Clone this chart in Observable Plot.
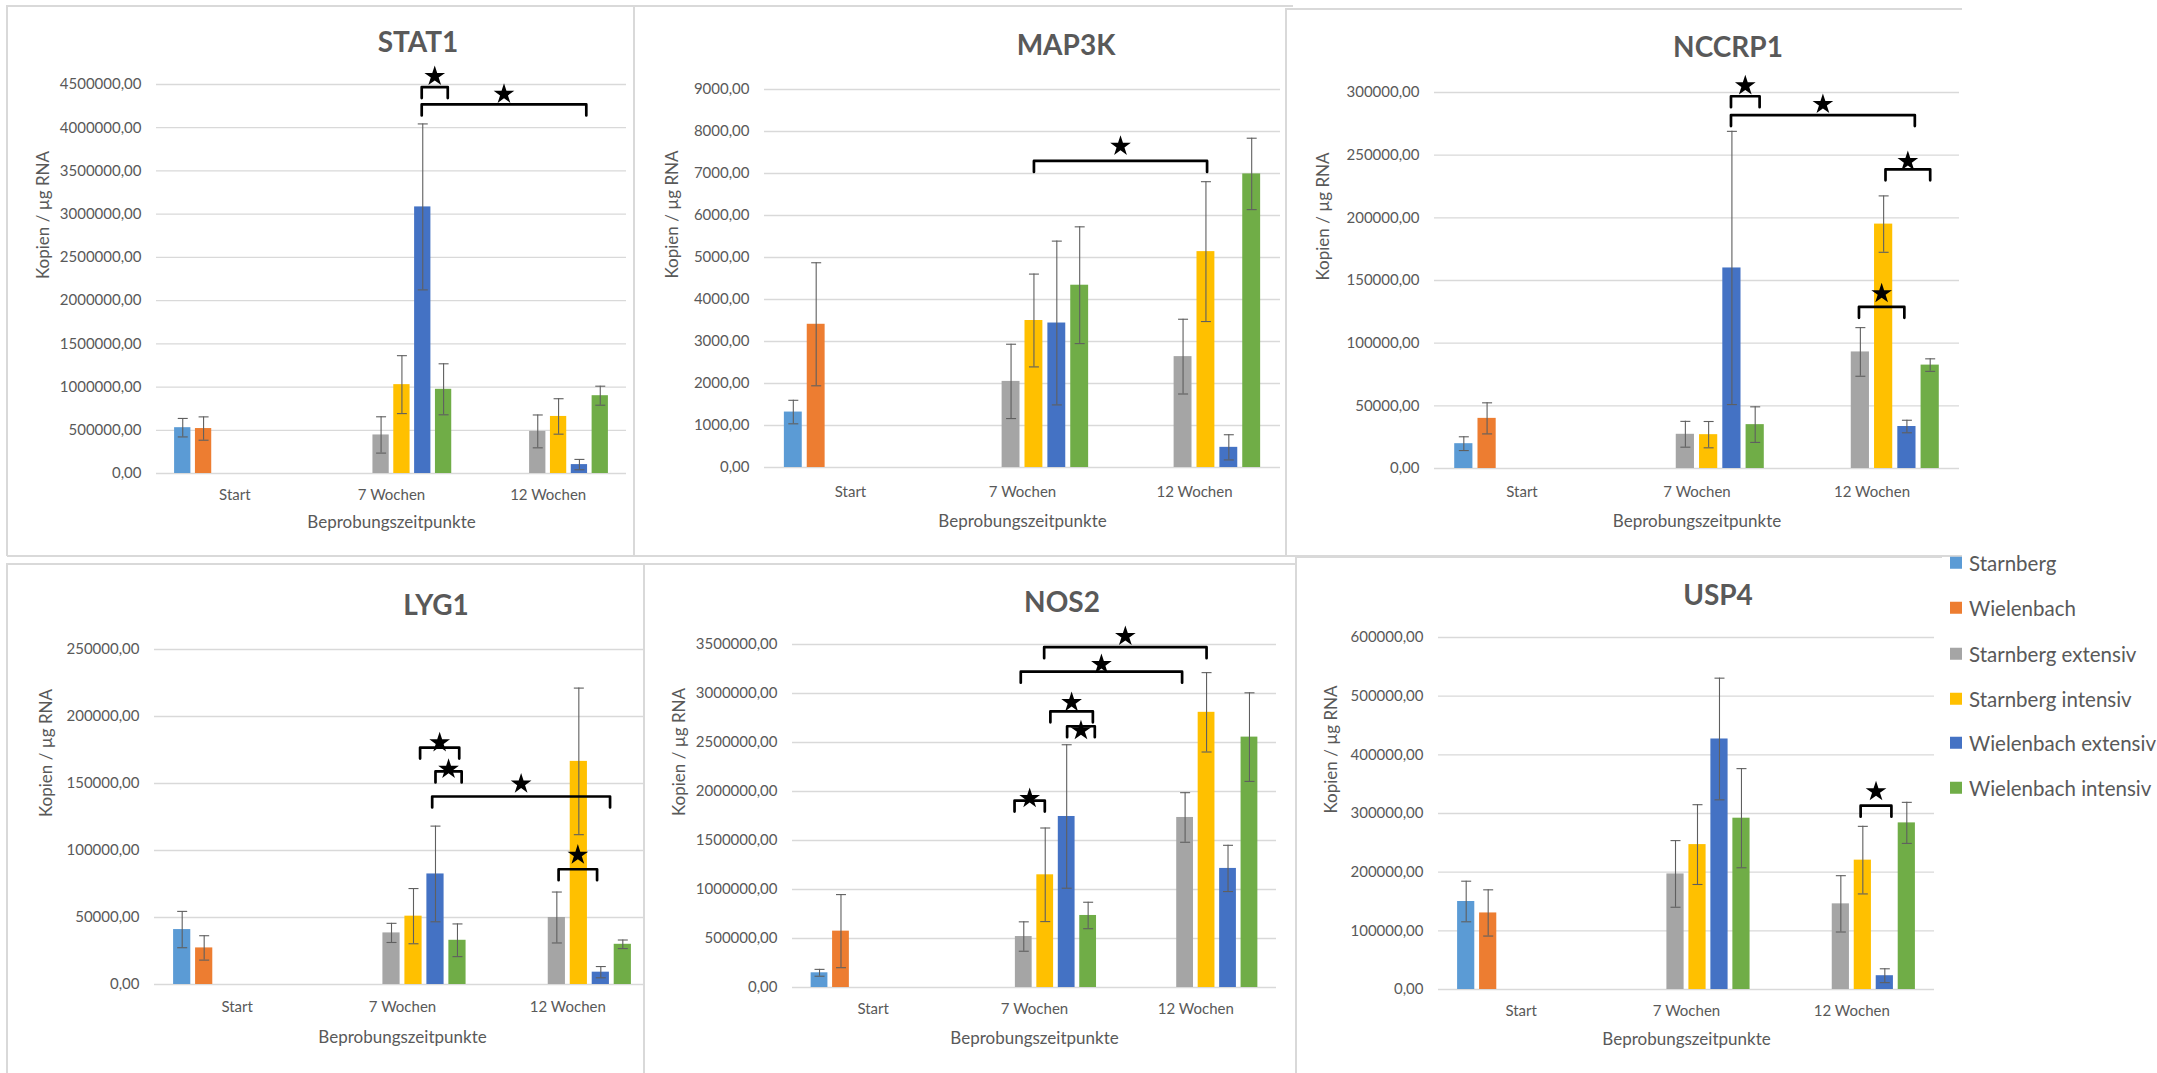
<!DOCTYPE html>
<html>
<head>
<meta charset="utf-8">
<script src="https://cdn.jsdelivr.net/npm/d3@7"></script>
<script src="https://cdn.jsdelivr.net/npm/@observablehq/plot@0.6"></script>
<style>
  html, body { margin: 0; padding: 0; background: #fff; }
  body { width: 2157px; height: 1073px; overflow: hidden; position: relative; font-family: Lato, "Open Sans", sans-serif; color: #595959; }
  .panel { position: absolute; overflow: hidden; background: #fff; }
  .panel svg { position: absolute; left: 0; top: 0; max-width: none !important; }
  .title { position: absolute; transform: translate(-50%, -50%); font-weight: bold; font-size: 28px; line-height: 1; white-space: nowrap; color: #595959; }
  .line { position: absolute; background: #D9D9D9; }
  .legend-item { position: absolute; left: 1950px; white-space: nowrap; font-size: 20.5px; line-height: 1; transform: translateY(-50%); display: flex; align-items: center; color: #595959; }
  .legend-item .sw { width: 12px; height: 12px; margin-right: 7px; flex: none; }
</style>
</head>
<body>
<script>
// ---------- DATA ----------
const categories = ["Start", "7 Wochen", "12 Wochen"];
const seriesNames = ["Starnberg", "Wielenbach", "Starnberg extensiv", "Starnberg intensiv", "Wielenbach extensiv", "Wielenbach intensiv"];
// each value below belongs to (category index, series index)
const barCategory = [0, 0, 1, 1, 1, 1, 2, 2, 2, 2];
const barSeries   = [0, 1, 2, 3, 4, 5, 2, 3, 4, 5];

const stat1Means  = [530000, 520000, 446000, 1028000, 3084000, 974000, 487000, 660000, 103000, 900000];
const stat1Errors = [107000, 135000, 210000, 335000, 960000, 295000, 190000, 205000, 60000, 110000];
const stat1Ticks  = [0, 500000, 1000000, 1500000, 2000000, 2500000, 3000000, 3500000, 4000000, 4500000];
const stat1Brackets = [
  {from: [1, 3.95], to: [1, 5.2], y: 4470000, star: 4595000},
  {from: [1, 3.95], to: [2, 4.33], y: 4270000, star: 4389000}
];

const map3kMeans  = [1320, 3410, 2050, 3500, 3440, 4340, 2640, 5140, 480, 6990];
const map3kErrors = [280, 1465, 885, 1105, 1950, 1390, 890, 1665, 300, 850];
const map3kTicks  = [0, 1000, 2000, 3000, 4000, 5000, 6000, 7000, 8000, 9000];
const map3kBrackets = [
  {from: [1, 3.0], to: [2, 3.05], y: 7300, star: 7650}
];

const nccrp1Means  = [19800, 40000, 27300, 27000, 160000, 35000, 93000, 195000, 33500, 82500];
const nccrp1Errors = [5500, 12400, 10300, 10500, 109000, 14200, 19400, 22500, 5000, 5000];
const nccrp1Ticks  = [0, 50000, 100000, 150000, 200000, 250000, 300000];
const nccrp1Brackets = [
  {from: [1, 3.96], to: [1, 5.19], y: 297000, star: 305400},
  {from: [1, 3.96], to: [2, 4.34], y: 282000, star: 290600},
  {from: [2, 3.08], to: [2, 5.0], y: 238700, star: 245000},
  {from: [2, 1.94], to: [2, 3.89], y: 129000, star: 139600}
];

const lyg1Means  = [41000, 27300, 38500, 51000, 82500, 33000, 50000, 166500, 9200, 30000];
const lyg1Errors = [13560, 9100, 7150, 20600, 35700, 12200, 19000, 54700, 4200, 3200];
const lyg1Ticks  = [0, 50000, 100000, 150000, 200000, 250000];
const lyg1Brackets = [
  {from: [1, 3.3], to: [1, 5.08], y: 176800, star: 180500},
  {from: [1, 4.0], to: [1, 5.19], y: 159000, star: 160700},
  {from: [1, 3.85], to: [2, 4.42], y: 140300, star: 149700},
  {from: [2, 2.08], to: [2, 3.83], y: 86000, star: 96650}
];

const nos2Means  = [150000, 575000, 520000, 1150000, 1745000, 735000, 1735000, 2808000, 1215000, 2555000];
const nos2Errors = [35000, 373000, 150000, 477500, 732000, 135000, 253000, 405000, 236000, 452000];
const nos2Ticks  = [0, 500000, 1000000, 1500000, 2000000, 2500000, 3000000, 3500000];
const nos2Brackets = [
  {from: [1, 2.95], to: [2, 3.0], y: 3473000, star: 3584000},
  {from: [1, 1.86], to: [2, 1.86], y: 3223000, star: 3297000},
  {from: [1, 3.24], to: [1, 5.22], y: 2818000, star: 2909000},
  {from: [1, 4.02], to: [1, 5.31], y: 2666000, star: 2622000},
  {from: [1, 1.57], to: [1, 2.98], y: 1907000, star: 1930000}
];

const usp4Means  = [150000, 130500, 197000, 247000, 427000, 292000, 146000, 220500, 23500, 284000];
const usp4Errors = [34600, 39400, 56800, 68000, 103700, 84500, 48000, 57600, 11800, 35000];
const usp4Ticks  = [0, 100000, 200000, 300000, 400000, 500000, 600000];
const usp4Brackets = [
  {from: [2, 2.9], to: [2, 4.3], y: 313300, star: 337500}
];

// ---------- STYLE / LAYOUT ----------
const palette = ["#5B9BD5", "#ED7D31", "#A5A5A5", "#FFC000", "#4472C4", "#70AD47"];
const SLOT_STEP = 0.133, BAR_HALF = 0.052;
const pos = (cat, slot) => cat + (slot - 2.5) * SLOT_STEP;

const genes = [
  {name: "STAT1", means: stat1Means, errors: stat1Errors, ticks: stat1Ticks, brackets: stat1Brackets},
  {name: "MAP3K", means: map3kMeans, errors: map3kErrors, ticks: map3kTicks, brackets: map3kBrackets},
  {name: "NCCRP1", means: nccrp1Means, errors: nccrp1Errors, ticks: nccrp1Ticks, brackets: nccrp1Brackets},
  {name: "LYG1", means: lyg1Means, errors: lyg1Errors, ticks: lyg1Ticks, brackets: lyg1Brackets},
  {name: "NOS2", means: nos2Means, errors: nos2Errors, ticks: nos2Ticks, brackets: nos2Brackets},
  {name: "USP4", means: usp4Means, errors: usp4Errors, ticks: usp4Ticks, brackets: usp4Brackets}
];

const layouts = [
  {box: [7, 5, 634, 556],     plot: [156, 84, 626, 473],   title: [418, 41],   yTitleX: 43,   catY: 495,  axisTitleY: 522},
  {box: [634, 5, 1286, 556],  plot: [764, 89, 1280, 467],  title: [1066, 44],  yTitleX: 672,  catY: 492,  axisTitleY: 521},
  {box: [1285, 9, 1962, 556], plot: [1434, 92, 1959, 468], title: [1728, 46],  yTitleX: 1323, catY: 492,  axisTitleY: 521},
  {box: [7, 564, 643, 1073],  plot: [154, 649, 650, 984],  title: [436, 604],  yTitleX: 46,   catY: 1007, axisTitleY: 1037},
  {box: [643, 563, 1295, 1073], plot: [792, 644, 1276, 987], title: [1062, 601], yTitleX: 679, catY: 1009, axisTitleY: 1038},
  {box: [1295, 557, 1942, 1073], plot: [1438, 637, 1934, 989], title: [1718, 594], yTitleX: 1331, catY: 1011, axisTitleY: 1039}
];

const capSymbol = {
  draw(context, size) {
    const r = Math.sqrt(size / Math.PI);
    context.moveTo(-r, 0);
    context.lineTo(r, 0);
  }
};

function renderPanel(gene, L) {
  const [bl, bt, br, bb] = L.box;
  const [pl, pt, pr, pb] = L.plot;
  const W = br - bl, H = bb - bt;
  const yMax = gene.ticks[gene.ticks.length - 1];
  const leg = 11 / (pb - pt) * yMax;

  const bars = gene.means.map((m, i) => ({cat: barCategory[i], s: barSeries[i], mean: m, err: gene.errors[i]}));
  const caps = bars.flatMap(b => [{...b, v: b.mean + b.err}, {...b, v: b.mean - b.err}]);
  const bracketPts = gene.brackets.flatMap((b, k) => {
    const x1 = pos(...b.from), x2 = pos(...b.to);
    return [
      {k, x: x1, y: b.y - leg}, {k, x: x1, y: b.y},
      {k, x: x2, y: b.y}, {k, x: x2, y: b.y - leg}
    ];
  });
  const stars = gene.brackets.map(b => ({x: (pos(...b.from) + pos(...b.to)) / 2, y: b.star}));

  const chart = Plot.plot({
    width: W, height: H,
    marginLeft: pl - bl, marginRight: br - pr, marginTop: pt - bt, marginBottom: bb - pb,
    x: {domain: [-0.5, 2.5]},
    y: {domain: [0, yMax]},
    style: {fontFamily: "Lato, 'Open Sans', sans-serif", fontSize: "15px", color: "#595959", background: "transparent", overflow: "visible"},
    marks: [
      Plot.ruleY(gene.ticks, {stroke: "#D9D9D9", strokeWidth: 1.3}),
      Plot.rect(bars, {
        x1: d => pos(d.cat, d.s) - BAR_HALF, x2: d => pos(d.cat, d.s) + BAR_HALF,
        y1: 0, y2: "mean", fill: d => palette[d.s]
      }),
      Plot.ruleX(bars, {x: d => pos(d.cat, d.s), y1: d => d.mean - d.err, y2: d => d.mean + d.err, stroke: "#5f5f5f", strokeWidth: 1.1}),
      Plot.dot(caps, {x: d => pos(d.cat, d.s), y: "v", symbol: capSymbol, r: 5, fill: "none", stroke: "#5f5f5f", strokeWidth: 1.1}),
      Plot.line(bracketPts, {x: "x", y: "y", z: "k", stroke: "#000", strokeWidth: 2.7, strokeLinejoin: "round"}),
      Plot.dot(stars, {x: "x", y: "y", symbol: "star", r: 6.5, fill: "#000", stroke: "none"}),
      Plot.axisY({ticks: gene.ticks, tickSize: 0, tickPadding: 15, tickFormat: d => d + ",00", label: null, fill: "#595959"}),
      Plot.axisX({ticks: [0, 1, 2], tickSize: 0, tickPadding: L.catY - pb - 6, tickFormat: i => categories[i], label: null, fill: "#595959"}),
      Plot.text(["Kopien / µg RNA"], {text: d => d, frameAnchor: "left", dx: L.yTitleX - pl, rotate: -90, fontSize: 17, fill: "#595959", lineAnchor: "middle"}),
      Plot.text(["Beprobungszeitpunkte"], {text: d => d, frameAnchor: "bottom", dy: L.axisTitleY - pb, fontSize: 17, fill: "#595959", lineAnchor: "middle"})
    ]
  });

  const div = document.createElement("div");
  div.className = "panel";
  div.style.left = bl + "px"; div.style.top = bt + "px";
  div.style.width = W + "px"; div.style.height = H + "px";
  div.appendChild(chart);
  document.body.appendChild(div);

  const t = document.createElement("div");
  t.className = "title";
  t.textContent = gene.name;
  t.style.left = L.title[0] + "px"; t.style.top = L.title[1] + "px";
  document.body.appendChild(t);
}

genes.forEach((g, i) => renderPanel(g, layouts[i]));

// panel frame lines (screenshot borders)
const frameLines = [
  [7, 5, 1286, 2],      // top of panels 1-2
  [6, 5, 2, 551],       // left panel 1
  [633, 5, 2, 551],     // right panel 1
  [7, 555, 1955, 2],    // bottom top row
  [1285, 8, 677, 2],    // top panel 3
  [1285, 8, 2, 548],    // left panel 3
  [7, 563, 636, 2],     // top panel 4
  [6, 563, 2, 510],     // left panel 4
  [643, 563, 652, 2],   // top panel 5
  [643, 563, 2, 510],   // left panel 5
  [1295, 556, 647, 2],  // top panel 6
  [1295, 556, 2, 517]   // left panel 6
];
frameLines.forEach(([x, y, w, h]) => {
  const d = document.createElement("div");
  d.className = "line";
  d.style.left = x + "px"; d.style.top = y + "px";
  d.style.width = w + "px"; d.style.height = h + "px";
  document.body.appendChild(d);
});

// legend
const legendY = [563, 608, 654, 699, 743, 788];
seriesNames.forEach((name, i) => {
  const item = document.createElement("div");
  item.className = "legend-item";
  item.style.top = legendY[i] + "px";
  const sw = document.createElement("span");
  sw.className = "sw";
  sw.style.background = palette[i];
  const tx = document.createElement("span");
  tx.textContent = name;
  item.appendChild(sw); item.appendChild(tx);
  document.body.appendChild(item);
});
</script>
</body>
</html>
